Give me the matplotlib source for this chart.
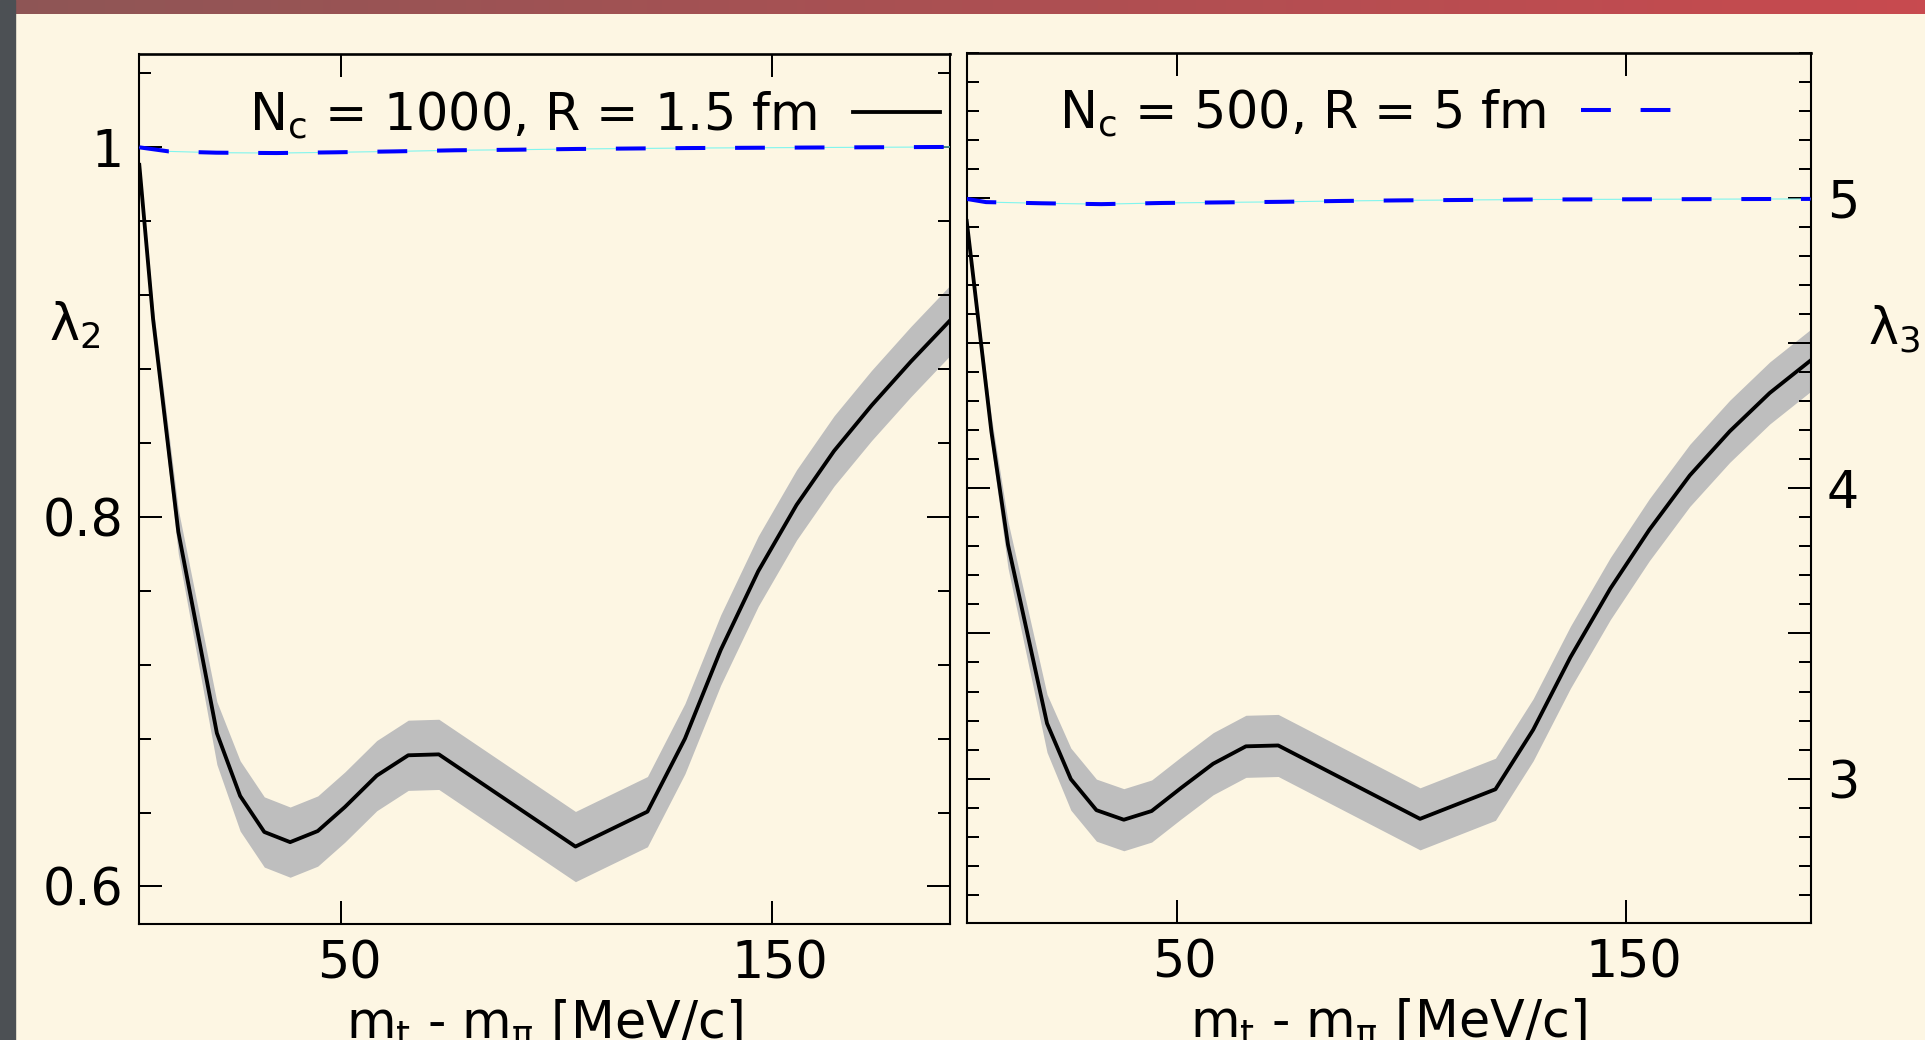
import matplotlib
matplotlib.use('Agg')
import matplotlib.pyplot as plt
import numpy as np
from matplotlib.ticker import MultipleLocator, NullLocator, FixedLocator, FixedFormatter
from matplotlib.colors import LinearSegmentedColormap
from matplotlib.lines import Line2D
from matplotlib.patches import Rectangle
import matplotlib.transforms as mtransforms

# ---------------- data ----------------
# left panel: lambda_2
mt_black_l = [3.2, 6.4, 12.25, 21.2, 26.6, 32.2, 38.2, 44.6, 50.9, 58.3, 65.6, 72.7,
              104.4, 121.1, 129.8, 138.1, 146.8, 155.7, 164.4, 173.1, 182.2, 191.3]
lam2_black = [0.9905, 0.907, 0.792, 0.683, 0.649, 0.6295, 0.624, 0.630, 0.643, 0.660, 0.671, 0.6715,
              0.6216, 0.6405, 0.680, 0.728, 0.7706, 0.8065, 0.8357, 0.8603, 0.884, 0.9063]
lam2_black_err = [0.003, 0.007, 0.012, 0.017, 0.019, 0.019, 0.019, 0.019, 0.019, 0.019, 0.019, 0.019,
                  0.019, 0.019, 0.019, 0.019, 0.019, 0.019, 0.019, 0.019, 0.019, 0.019]

mt_blue_l = [3.2, 10, 21, 35, 48.6, 62.5, 76.5, 90.4, 104.3, 130, 160, 191.3]
lam2_blue = [1.0, 0.9978, 0.9971, 0.9969, 0.9973, 0.9978, 0.9984, 0.9987, 0.9991, 0.9996, 0.9999, 1.0002]

# right panel: lambda_3
mt_black_r = [3.2, 8.7, 12.4, 21.1, 26.4, 32.1, 38.2, 44.4, 51.0, 58.1, 65.4, 72.6,
              104.2, 121.0, 129.4, 137.7, 146.6, 155.3, 164.3, 173.2, 182.1, 191.2]
lam3_black = [4.922, 4.196, 3.806, 3.190, 2.998, 2.891, 2.858, 2.888, 2.968, 3.051, 3.111, 3.114,
              2.861, 2.963, 3.168, 3.418, 3.655, 3.858, 4.045, 4.197, 4.329, 4.441]
lam3_black_err = [0.01, 0.05, 0.08, 0.10, 0.107, 0.107, 0.107, 0.107, 0.107, 0.107, 0.107, 0.107,
                  0.107, 0.107, 0.107, 0.107, 0.107, 0.107, 0.107, 0.107, 0.107, 0.107]

mt_blue_r = [3.2, 7.5, 19.9, 33.2, 46.6, 60, 73.3, 86.7, 100, 130, 160, 191.2]
lam3_blue = [4.998, 4.987, 4.983, 4.980, 4.984, 4.986, 4.988, 4.991, 4.993, 4.996, 4.997, 4.998]

legend_left = r"N$_\mathregular{c}$ = 1000, R = 1.5 fm"
legend_right = r"N$_\mathregular{c}$ = 500, R = 5 fm"
xlabel_text = r"m$_\mathregular{t}$ - m$_\mathregular{π}$ [MeV/c]"
xticks = [50, 150]
xticklabels = ["50", "150"]
yticks_l = [0.6, 0.8, 1.0]
yticklabels_l = ["0.6", "0.8", "1"]
yticks_r = [3, 3.5, 4, 4.5, 5]
yticklabels_r = ["3", "", "4", "", "5"]

# ---------------- style ----------------
W, H, DPI = 1925, 1040, 100
BG = '#fdf6e3'
FS = 36.5
plt.rcParams['font.family'] = ['DejaVu Sans']
plt.rcParams['mathtext.fontset'] = 'dejavusans'

fig = plt.figure(figsize=(W / DPI, H / DPI), dpi=DPI, facecolor=BG)

# slide decorations
bar = fig.add_axes([0, 1 - 14 / H, 1, 14 / H])
cmap = LinearSegmentedColormap.from_list('bar', ['#8e5656', '#c84a4f'])
bar.imshow(np.linspace(0, 1, 256)[None, :], aspect='auto', cmap=cmap, extent=[0, 1, 0, 1])
bar.axis('off')
fig.add_artist(Rectangle((0, 0), 15 / W, 1, transform=fig.transFigure, color='#4c5054', zorder=5))

axL = fig.add_axes([139.3 / W, (H - 924) / H, (950 - 139.3) / W, 870 / H])
axR = fig.add_axes([966.7 / W, (H - 923) / H, (1811 - 966.7) / W, 870 / H])

BAND = '#bebebe'
CYAN = '#80f5ee'
LW_BLACK = 2.75
LW_BLUE = 2.9
DASH = (7.4, 7.4)

for ax, xb, yb, eb, xbl, ybl in [
    (axL, mt_black_l, lam2_black, lam2_black_err, mt_blue_l, lam2_blue),
    (axR, mt_black_r, lam3_black, lam3_black_err, mt_blue_r, lam3_blue),
]:
    ax.set_facecolor(BG)
    xb = np.array(xb); yb = np.array(yb); eb = np.array(eb)
    ax.fill_between(xb, yb - eb, yb + eb, color=BAND, lw=0, zorder=1)
    ax.plot(xb, yb, color='black', lw=LW_BLACK, zorder=2)
    ax.plot(xbl, ybl, color=CYAN, lw=0.8, zorder=3)
    ax.plot(xbl, ybl, color='blue', lw=LW_BLUE, dashes=DASH, zorder=4)
    ax.set_xlim(3.2, 191.3)
    ax.xaxis.set_major_locator(FixedLocator(xticks))
    ax.xaxis.set_major_formatter(FixedFormatter(xticklabels))
    ax.xaxis.set_minor_locator(NullLocator())
    for s in ax.spines.values():
        s.set_linewidth(1.5)
    ax.spines['top'].set_linewidth(1.9)
    ax.tick_params(which='both', direction='in', top=True, bottom=True, left=True, right=True,
                   width=1.44, labelsize=FS, pad=11.5)
    ax.tick_params(which='major', length=16.6)
    ax.tick_params(which='minor', length=8.4)
    ax.set_xlabel(xlabel_text, fontsize=FS, labelpad=5)

axL.set_ylim(0.5797, 1.0505)
axL.yaxis.set_major_locator(FixedLocator(yticks_l))
axL.yaxis.set_major_formatter(FixedFormatter(yticklabels_l))
axL.yaxis.set_minor_locator(MultipleLocator(0.04))
axL.tick_params(axis='y', labelleft=True, labelright=False)

axR.set_ylim(2.502, 5.501)
axR.yaxis.set_major_locator(FixedLocator(yticks_r))
axR.yaxis.set_major_formatter(FixedFormatter(yticklabels_r))
axR.yaxis.set_minor_locator(MultipleLocator(0.1))
axR.tick_params(axis='y', labelleft=False, labelright=True)

# shift x tick labels slightly right as in the reference
shift = mtransforms.ScaledTranslation(8 / DPI, 0, fig.dpi_scale_trans)
for ax in (axL, axR):
    for t in ax.xaxis.get_major_ticks():
        t.label1.set_transform(t.label1.get_transform() + shift)

# legends (text first, line after)
hL = Line2D([], [], color='black', lw=LW_BLACK)
hR = Line2D([], [], color='blue', lw=LW_BLUE, dashes=DASH)
axL.legend([hL], [legend_left], loc='upper left', bbox_to_anchor=(0.1355, 0.9598),
           frameon=False, markerfirst=False, fontsize=FS, borderpad=0, borderaxespad=0,
           handlelength=1.72, handletextpad=0.72)
axR.legend([hR], [legend_right], loc='upper left', bbox_to_anchor=(0.109, 0.9606),
           frameon=False, markerfirst=False, fontsize=FS, borderpad=0, borderaxespad=0,
           handlelength=1.85, handletextpad=0.7)

# y labels
fig.text(49 / W, (H - 341) / H, r"λ$_\mathregular{2}$", fontsize=FS, ha='left', va='baseline')
fig.text(1868 / W, (H - 344) / H, r"λ$_\mathregular{3}$", fontsize=FS, ha='left', va='baseline')

fig.savefig('out.png', dpi=DPI, facecolor=BG)
